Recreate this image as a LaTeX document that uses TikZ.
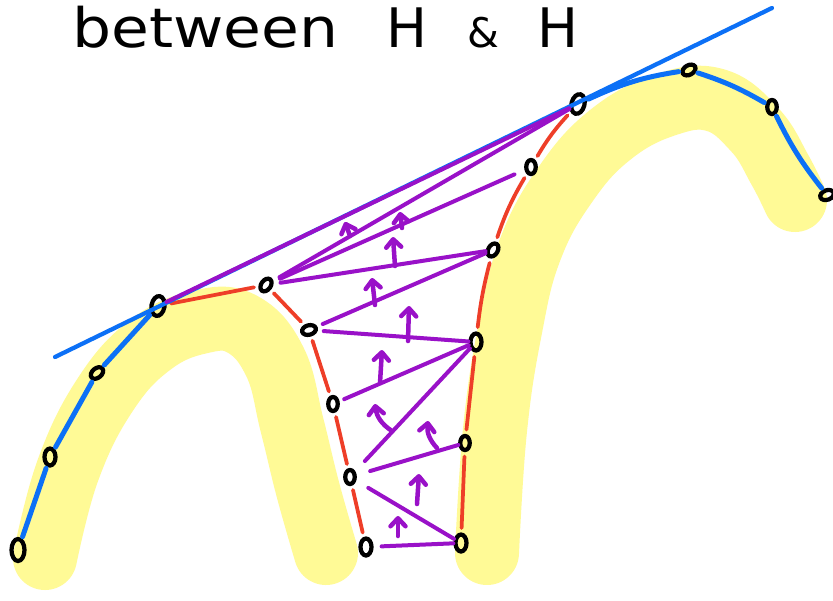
\documentclass[tikz,border=0pt]{standalone}
\usepackage{fontspec}
\setmainfont{DejaVu Sans}
\usetikzlibrary{shapes.geometric, arrows.meta}

\definecolor{hullblue}{RGB}{12,112,246}
\definecolor{hullred}{RGB}{238,62,40}
\definecolor{mergepurple}{RGB}{153,17,200}
\definecolor{marker}{RGB}{255,250,150}

\begin{document}
\begin{tikzpicture}[
    x=0.02cm, y=-0.02cm,
    hullpt/.style={ellipse, draw=black, line width=0.085cm, minimum width=0.22cm, minimum height=0.34cm, inner sep=0pt},
    smallpt/.style={hullpt, minimum width=0.19cm, minimum height=0.28cm},
    outer/.style={hullblue, line width=0.1cm, line cap=round, shorten <=1pt, shorten >=1pt},
    tangent/.style={hullblue, line width=0.085cm, line cap=round},
    inner/.style={hullred, line width=0.075cm, line cap=round, shorten <=2.5pt, shorten >=2.5pt},
    bridge/.style={mergepurple, line width=0.08cm, line cap=round},
    flip/.style={mergepurple, line width=0.09cm, line cap=round, -{Straight Barb[length=1.6mm, width=3mm, round]}},
    band/.style={marker, line width=1.28cm, line cap=round, line join=round}
]
    \useasboundingbox (0,0) rectangle (833,600);
    \fill[white] (0,0) rectangle (833,600);

    % --- HIGHLIGHTED HULLS ---
    \draw[band] plot[smooth, tension=0.7] coordinates {(45,558) (68,470) (105,395) (150,345) (200,322) (242,324) (275,362) (292,425) (308,490) (326,553)};
    \draw[band] plot[smooth, tension=0.7] coordinates {(487,553) (495,430) (510,330) (530,250) (565,185) (610,135) (665,105) (715,100) (755,130) (780,170) (795,200)};

    \node[anchor=base west, inner sep=0pt, font=\fontsize{31}{36}\selectfont] (title) at (72,47)
        {\scalebox{1.13}[1]{between}\hspace{0.96cm}H\hspace{0.8cm}\scalebox{0.75}{\&}\hspace{0.76cm}H};

    % --- LEFT HULL ---
    \node[hullpt, minimum width=0.26cm, minimum height=0.44cm] (l1) at (18,550) {};
    \node[hullpt] (l2) at (50,457) {};
    \node[smallpt, rotate=-50] (l3) at (97,373) {};
    \node[hullpt, minimum width=0.26cm, minimum height=0.4cm, rotate=-10] (l4) at (158,306) {};
    \node[smallpt, rotate=-35] (l5) at (266,285) {};
    \node[smallpt, rotate=-75] (l6) at (309,330) {};
    \node[smallpt] (l7) at (333,404) {};
    \node[smallpt] (l8) at (350,477) {};
    \node[hullpt] (l9) at (366,547) {};

    % --- RIGHT HULL ---
    \node[hullpt] (r1) at (461,543) {};
    \node[smallpt] (r2) at (465,443) {};
    \node[hullpt] (r3) at (476,342) {};
    \node[smallpt, rotate=-30] (r4) at (493,250) {};
    \node[smallpt] (r5) at (531,167) {};
    \node[hullpt, minimum width=0.26cm, minimum height=0.4cm, rotate=-15] (r6) at (578,104) {};
    \node[smallpt, rotate=-60] (r7) at (689,70) {};
    \node[smallpt] (r8) at (772,107) {};
    \node[smallpt, rotate=-70] (r9) at (827,195) {};

    % Hull edges
    \draw[outer] (l1) -- (l2);
    \draw[outer] (l2) -- (l3);
    \draw[outer] (l3) -- (l4);
    \draw[inner] (l4) -- (l5);
    \draw[inner] (l5) -- (l6);
    \draw[inner] (l6) -- (l7);
    \draw[inner] (l7) -- (l8);
    \draw[inner] (l8) -- (l9);

    \draw[inner] (r1) -- (r2);
    \draw[inner] (r2) -- (r3);
    \draw[inner] (r3) to[bend left=4] (r4);
    \draw[inner] (r4) to[bend left=6] (r5);
    \draw[inner] (r5) to[bend left=6] (r6);
    \draw[outer] (r6) to[bend left=8] (r7);
    \draw[outer] (r7) to[bend left=6] (r8);
    \draw[outer] (r8) to[bend right=6] (r9);

    % Common tangent
    \coordinate (tanA) at (55,357);
    \coordinate (tanB) at (772,8);
    \draw[tangent] (tanA) -- (tanB);

    % --- MERGE STEPS ---
    \draw[bridge, shorten <=0.16cm] (l9) -- (r1);
    \draw[bridge, shorten <=0.28cm] (l8) -- (r1);
    \draw[bridge, shorten <=0.28cm] (l8) -- (r2);
    \draw[bridge, shorten <=0.28cm] (l8) -- (r3);
    \draw[bridge, shorten <=0.1cm] (l7) -- (r3);
    \draw[bridge, shorten <=0.12cm] (l6) -- (r3);
    \draw[bridge, shorten <=0.12cm] (l6) -- (r4);
    \draw[bridge, shorten <=0.14cm] (l5) -- (r4);
    \draw[bridge, shorten <=0.14cm, shorten >=0.22cm] (l5) -- (r5);
    \draw[bridge, shorten <=0.14cm] (l5) -- (r6);
    \draw[bridge] (l4) -- (r6);

    % Rising arrows
    \draw[flip] (398,536) -- (398,516);
    \draw[flip] (417,504) -- (419,474);
    \draw[flip] (437,448) to[bend left=25] (428,421);
    \draw[flip] (392,431) to[bend left=25] (375,404);
    \draw[flip] (380,383) -- (382,350);
    \draw[flip] (408,341) -- (409,306);
    \draw[flip] (375,305) -- (372,278);
    \draw[flip] (395,266) -- (393,237);
    \draw[flip] (350,236) -- (345,222);
    \draw[flip] (402,228) -- (400,212);
\end{tikzpicture}
\end{document}
